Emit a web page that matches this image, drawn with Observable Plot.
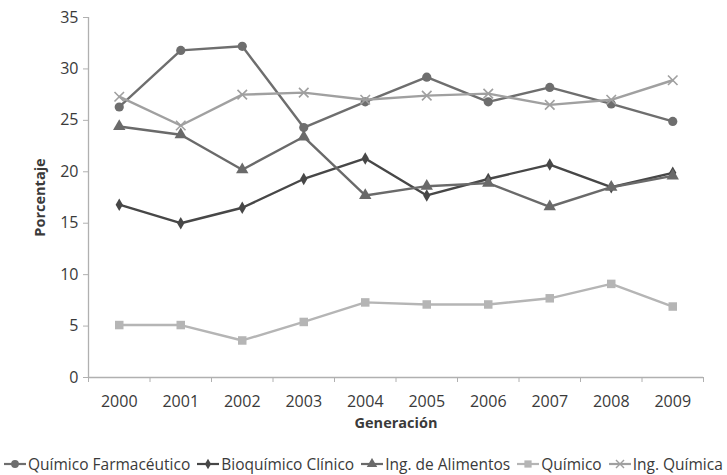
<!DOCTYPE html>
<html>
<head>
<meta charset="utf-8">
<script src="https://cdn.jsdelivr.net/npm/d3@7"></script>
<script src="https://cdn.jsdelivr.net/npm/@observablehq/plot@0.6"></script>
<style>
  html, body { margin: 0; padding: 0; background: #fff; }
  #chart { width: 727px; height: 475px; position: relative; font-family: "Open Sans", sans-serif; }
  #legend { display: flex; align-items: center; height: 23px; padding-left: 3px; font-size: 15.5px; color: #3a3a3a; white-space: nowrap; }
  #legend .item { display: flex; align-items: center; margin-right: 6px; }
  #legend svg { margin-right: 1px; }
</style>
</head>
<body>
<div id="chart"></div>
<script>
const years = [2000, 2001, 2002, 2003, 2004, 2005, 2006, 2007, 2008, 2009];
const seriesNames = ["Químico Farmacéutico", "Bioquímico Clínico", "Ing. de Alimentos", "Químico", "Ing. Química"];
const quimicoFarmaceutico = [26.3, 31.8, 32.2, 24.3, 26.8, 29.2, 26.8, 28.2, 26.6, 24.9];
const bioquimicoClinico = [16.8, 15.0, 16.5, 19.3, 21.3, 17.7, 19.3, 20.7, 18.5, 19.9];
const ingAlimentos = [24.4, 23.6, 20.2, 23.4, 17.7, 18.6, 18.9, 16.6, 18.5, 19.6];
const quimico = [5.1, 5.1, 3.6, 5.4, 7.3, 7.1, 7.1, 7.7, 9.1, 6.9];
const ingQuimica = [27.3, 24.5, 27.5, 27.7, 27.0, 27.4, 27.6, 26.5, 27.0, 28.9];
const yTicks = [0, 5, 10, 15, 20, 25, 30, 35];

const seriesValues = [quimicoFarmaceutico, bioquimicoClinico, ingAlimentos, quimico, ingQuimica];
const colors = ["#6e6e6e", "#474747", "#6a6a6a", "#b5b5b5", "#a0a0a0"];
const symbols = ["circle", "diamond", "triangle", "square", "times"];
const radii = [4.6, 3.8, 4.6, 4.8, 4.4];

const data = seriesNames.flatMap((name, i) => years.map((yr, j) => ({ series: name, year: yr, value: seriesValues[i][j] })));
const boundaries = years.map(y => y - 0.5).concat([years[years.length - 1] + 0.5]);
const yMid = (yTicks[0] + yTicks[yTicks.length - 1]) / 2;

const axisColor = "#b0b0b0";
const textColor = "#3a3a3a";

const marks = [
  Plot.ruleY([0], { stroke: axisColor, strokeWidth: 1.3 }),
  Plot.ruleX([boundaries[0]], { stroke: axisColor, strokeWidth: 1.3 }),
  Plot.axisY({ ticks: yTicks, tickSize: 5, tickPadding: 5, tickFormat: d => String(d), stroke: axisColor, color: textColor, fontSize: 16, label: null }),
  Plot.axisX({ ticks: boundaries, tickSize: 5, tickFormat: () => "", stroke: axisColor, label: null }),
  Plot.axisX({ ticks: years, tickSize: 0, tickPadding: 18, tickFormat: d => String(d), color: textColor, fontSize: 16, label: null }),
  Plot.text(["Generación"], { frameAnchor: "bottom", dy: 50, fontWeight: "bold", fontSize: 14.5, fill: textColor }),
  Plot.text(["Porcentaje"], { x: boundaries[0], y: () => yMid, dx: -48, rotate: -90, fontWeight: "bold", fontSize: 14.5, fill: textColor })
];

seriesNames.forEach((name, i) => {
  const d = data.filter(r => r.series === name);
  marks.push(Plot.line(d, { x: "year", y: "value", stroke: colors[i], strokeWidth: 2.4 }));
  if (symbols[i] === "times") {
    marks.push(Plot.dot(d, { x: "year", y: "value", symbol: () => "times", r: radii[i], stroke: colors[i], strokeWidth: 1.6 }));
  } else {
    marks.push(Plot.dot(d, { x: "year", y: "value", symbol: () => symbols[i], r: radii[i], fill: colors[i], stroke: "none" }));
  }
});

const plot = Plot.plot({
  width: 727,
  height: 452,
  marginLeft: 88,
  marginRight: 24,
  marginTop: 17,
  marginBottom: 75,
  style: { fontFamily: "Open Sans, sans-serif", background: "#fff" },
  x: { type: "linear", domain: [boundaries[0], boundaries[boundaries.length - 1]], axis: null },
  y: { domain: [0, 35], axis: null },
  symbol: { type: "identity" },
  marks
});

const chart = document.getElementById("chart");
chart.appendChild(plot);

const legend = document.createElement("div");
legend.id = "legend";
const symPath = (s, r) => d3.symbol(s === "times" ? d3.symbolTimes : s === "diamond" ? d3.symbolDiamond : s === "triangle" ? d3.symbolTriangle : s === "square" ? d3.symbolSquare : d3.symbolCircle, Math.PI * r * r)();
seriesNames.forEach((name, i) => {
  const item = document.createElement("div");
  item.className = "item";
  const ns = "http://www.w3.org/2000/svg";
  const s = document.createElementNS(ns, "svg");
  s.setAttribute("width", 24); s.setAttribute("height", 12);
  const ln = document.createElementNS(ns, "line");
  ln.setAttribute("x1", 1); ln.setAttribute("x2", 23); ln.setAttribute("y1", 6); ln.setAttribute("y2", 6);
  ln.setAttribute("stroke", colors[i]); ln.setAttribute("stroke-width", 2.2);
  s.appendChild(ln);
  const p = document.createElementNS(ns, "path");
  p.setAttribute("d", symPath(symbols[i], radii[i] * 0.85));
  p.setAttribute("transform", "translate(12,6)");
  if (symbols[i] === "times") { p.setAttribute("fill", "none"); p.setAttribute("stroke", colors[i]); p.setAttribute("stroke-width", 1.4); }
  else p.setAttribute("fill", colors[i]);
  s.appendChild(p);
  item.appendChild(s);
  const t = document.createElement("span");
  t.textContent = name;
  item.appendChild(t);
  legend.appendChild(item);
});
chart.appendChild(legend);
</script>
</body>
</html>
